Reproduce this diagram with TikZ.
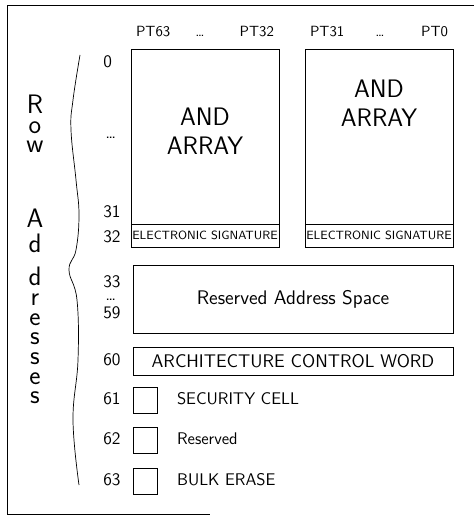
\documentclass[tikz,border=0pt]{standalone}
\renewcommand{\familydefault}{\sfdefault}

\begin{document}
\begin{tikzpicture}[x=0.025cm, y=-0.025cm, line width=0.5pt,
  numlbl/.style={anchor=base west, inner sep=0pt, font=\fontsize{12.5}{14}\selectfont},
  ptlbl/.style={font=\fontsize{10.5}{12}\selectfont},
  arraylbl/.style={align=center, font=\fontsize{18}{21}\selectfont},
  siglbl/.style={font=\fontsize{8.5}{10}\selectfont},
  celllbl/.style={anchor=west, font=\fontsize{12}{14}\selectfont},
  rowletters/.style={anchor=north, inner sep=0pt, align=center,
    font=\fontsize{19}{14}\selectfont}]
  \useasboundingbox (0,0) rectangle (474,518);
  \draw (474,5) -- (7,5) -- (7,514) -- (210,514);

  % Zeilenadressen links
  \node[rowletters] (rowaddr) at (35,94.5)
    {R\\o\\w\\[39.3pt]A\\[3.8pt]d\\[9.5pt]d\\r\\e\\s\\s\\e\\s};
  \draw plot[smooth, tension=0.7] coordinates {(80,55) (73,100) (71,130)
    (76,180) (79,215) (76,250) (69,270) (77,300) (78,360) (73,420) (79,485)};

  % Produktterme oben
  \node[ptlbl, anchor=base west] (pt63) at (131,37) {PT63};
  \node[ptlbl, anchor=base] (ptdotsL) at (200,37) {\dots};
  \node[ptlbl, anchor=base east] (pt32) at (279,37) {PT32};
  \node[ptlbl, anchor=base west] (pt31) at (305,37) {PT31};
  \node[ptlbl, anchor=base] (ptdotsR) at (380,37) {\dots};
  \node[ptlbl, anchor=base east] (pt0) at (453,37) {PT0};

  % AND-Arrays
  \draw (131,49) rectangle (279,247);
  \draw (131,224) -- (279,224);
  \node[arraylbl] (andL) at (205,131) {AND\\ARRAY};
  \node[siglbl] (sigL) at (205,235.5) {ELECTRONIC SIGNATURE};
  \draw (305,49) rectangle (453,247);
  \draw (305,224) -- (453,224);
  \node[arraylbl] (andR) at (379,103) {AND\\ARRAY};
  \node[siglbl] (sigR) at (379,235.5) {ELECTRONIC SIGNATURE};

  % Zeilennummern
  \node[numlbl] (row0) at (103,68) {0};
  \node[numlbl] (rowdotsA) at (105,139) {\dots};
  \node[numlbl] (row31) at (103,217) {31};
  \node[numlbl] (row32) at (103,242) {32};
  \node[numlbl] (row33) at (103,287) {33};
  \node[numlbl] (rowdotsB) at (105,300) {\dots};
  \node[numlbl] (row59) at (103,318) {59};
  \node[numlbl] (row60) at (103,365) {60};

  % reservierter Bereich, Steuerwort
  \draw (133,265) rectangle (453,333);
  \node[font=\fontsize{14}{16}\selectfont] (resv) at (293,299) {Reserved Address Space};
  \draw (133,347) rectangle (453,375);
  \node[font=\fontsize{13}{15}\selectfont] (acw) at (293,361) {ARCHITECTURE CONTROL WORD};

  % Einzelzellen
  \foreach \yt/\num/\txt in {387/61/SECURITY CELL, 427/62/Reserved, 468/63/BULK ERASE} {
    \draw (133,\yt) rectangle (157,\yt+26);
    \node[celllbl] (cell\num) at (172,\yt+12) {\txt};
    \node[numlbl] (row\num) at (103,\yt+17) {\num};
  }
\end{tikzpicture}
\end{document}
